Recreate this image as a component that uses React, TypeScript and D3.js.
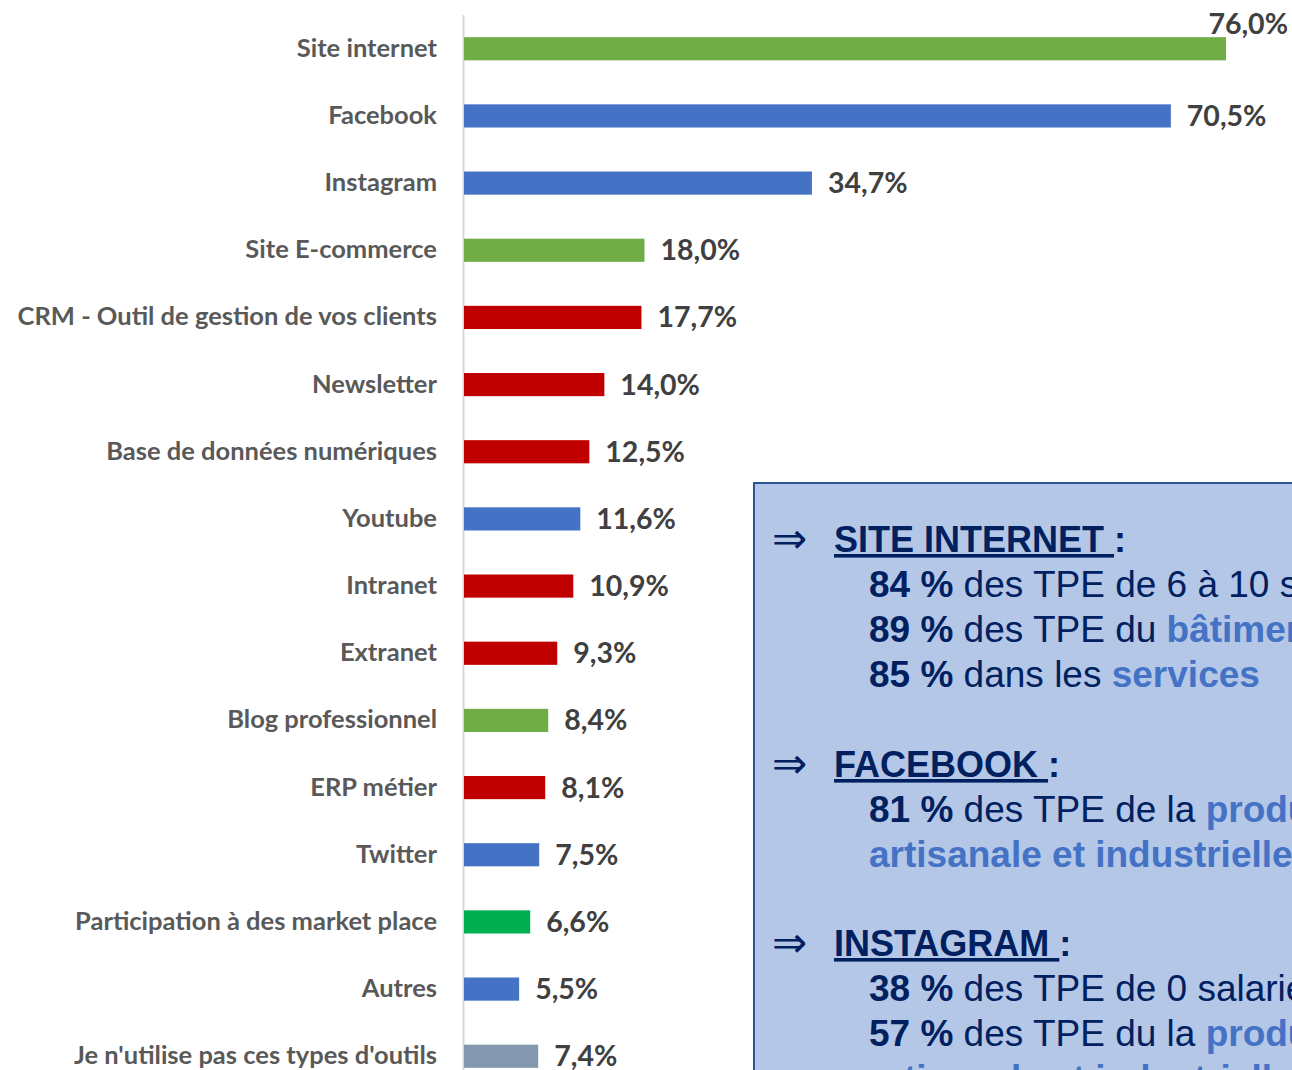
import React from "react";
import * as d3 from "d3";

const categories = [
  "Site internet",
  "Facebook",
  "Instagram",
  "Site E-commerce",
  "CRM - Outil de gestion de vos clients",
  "Newsletter",
  "Base de données numériques",
  "Youtube",
  "Intranet",
  "Extranet",
  "Blog professionnel",
  "ERP métier",
  "Twitter",
  "Participation à des market place",
  "Autres",
  "Je n'utilise pas ces types d'outils",
];
const values = [76.0, 70.5, 34.7, 18.0, 17.7, 14.0, 12.5, 11.6, 10.9, 9.3, 8.4, 8.1, 7.5, 6.6, 5.5, 7.4];
const kinds = ["web", "social", "social", "web", "tool", "tool", "tool", "social", "tool", "tool", "web", "tool", "social", "market", "social", "none"];

const colorOf: Record<string, string> = {
  web: "#70AD47",
  social: "#4472C4",
  tool: "#C00000",
  market: "#00B050",
  none: "#8497B0",
};

type Seg = [string, "b" | "r" | "h"];
const notes: { title: string; lines: Seg[][] }[] = [
  {
    title: "SITE INTERNET",
    lines: [
      [["84 %", "b"], [" des TPE de 6 à 10 salariés", "r"]],
      [["89 %", "b"], [" des TPE du ", "r"], ["bâtiment", "h"]],
      [["85 %", "b"], [" dans les ", "r"], ["services", "h"]],
    ],
  },
  {
    title: "FACEBOOK",
    lines: [
      [["81 %", "b"], [" des TPE de la ", "r"], ["production", "h"]],
      [["artisanale et industrielle", "h"]],
    ],
  },
  {
    title: "INSTAGRAM",
    lines: [
      [["38 %", "b"], [" des TPE de 0 salarié", "r"]],
      [["57 %", "b"], [" des TPE du la ", "r"], ["production", "h"]],
      [["artisanale et industrielle", "h"]],
    ],
  },
];

const W = 1292;
const H = 1070;

export default function App() {
  const x = d3.scaleLinear().domain([0, 76]).range([464, 1226]);
  const y = d3.scaleBand().domain(categories).range([15, 1090]).paddingInner(0.655).paddingOuter(0.33);
  const bw = y.bandwidth();
  const fmt = (v: number) => v.toFixed(1).replace(".", ",") + "%";

  const lineH = 45;
  const titleY = [552, 777, 956];
  const navy = "#002060";

  return (
    <svg width={W} height={H} style={{ position: "absolute", left: 0, top: 0 }}>
      <rect width={W} height={H} fill="#fff" />
      <line x1={463.5} x2={463.5} y1={15} y2={H} stroke="#d9d9d9" strokeWidth={2} />
      <g fontFamily="Lato, 'Open Sans', sans-serif" fontWeight="bold">
        {categories.map((c, i) => {
          const yc = (y(c) as number) + bw / 2;
          const v = values[i];
          const xe = x(v);
          const overflow = xe + 16 + 80 > W;
          return (
            <g key={c}>
              <rect x={x(0)} y={y(c)} width={xe - x(0)} height={bw} fill={colorOf[kinds[i]]} />
              <text x={437} y={yc + 8} textAnchor="end" fontSize={25.5} fill="#595959">
                {c}
              </text>
              <text
                x={overflow ? 1288 : xe + 16}
                y={overflow ? yc - 15 : yc + 10}
                textAnchor={overflow ? "end" : "start"}
                fontSize={28.5}
                fill="#404040"
              >
                {fmt(v)}
              </text>
            </g>
          );
        })}
      </g>
      <rect x={754} y={483} width={600} height={700} fill="#B4C7E7" stroke="#2F5597" strokeWidth={2} />
      <g fontFamily="Arial, 'Liberation Sans', sans-serif" fill={navy}>
        {notes.map((n, k) => (
          <g key={n.title}>
            <text x={772} y={titleY[k] + 1} fontSize={42} fontFamily="'DejaVu Sans', sans-serif">
              ⇒
            </text>
            <text x={834} y={titleY[k]} fontSize={36} fontWeight="bold">
              <tspan textDecoration="underline">{n.title + " "}</tspan>
              <tspan>:</tspan>
            </text>
            {n.lines.map((segs, j) => (
              <text key={j} x={869} y={titleY[k] + lineH * (j + 1)} fontSize={37}>
                {segs.map(([t, s], m) => (
                  <tspan key={m} fontWeight={s === "r" ? "normal" : "bold"} fill={s === "h" ? "#4472C4" : navy}>
                    {t}
                  </tspan>
                ))}
              </text>
            ))}
          </g>
        ))}
      </g>
    </svg>
  );
}
